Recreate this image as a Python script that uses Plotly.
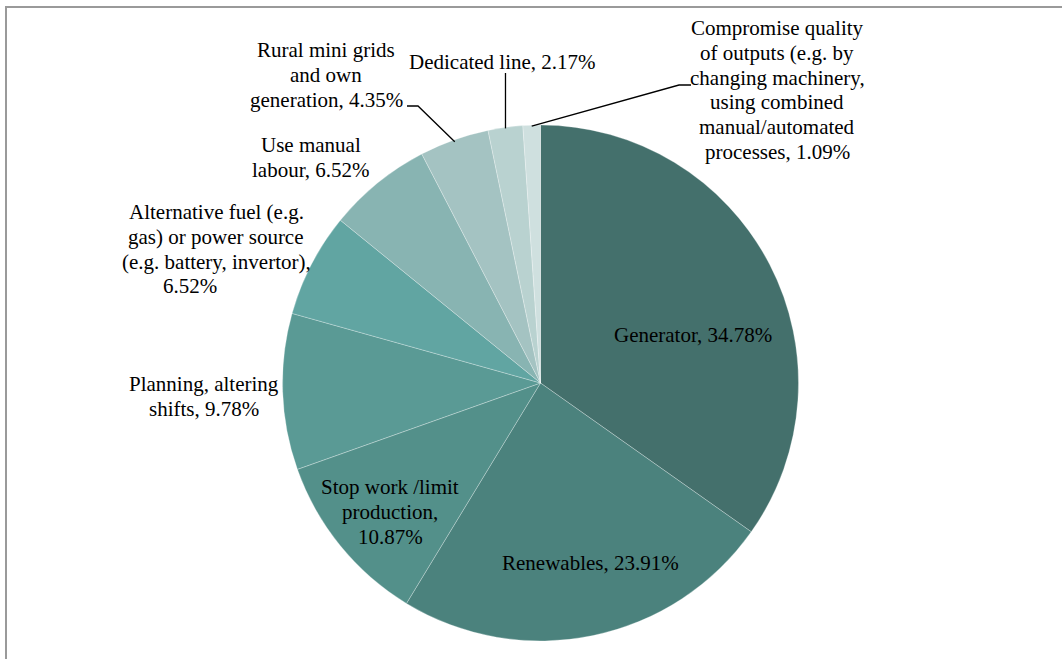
import math
import plotly.graph_objects as go

# Slice data (clockwise from 12 o'clock)
categories = [
    "Generator",
    "Renewables",
    "Stop work /limit production",
    "Planning, altering shifts",
    "Alternative fuel (e.g. gas) or power source (e.g. battery, invertor)",
    "Use manual labour",
    "Rural mini grids and own generation",
    "Dedicated line",
    "Compromise quality of outputs (e.g. by changing machinery, using combined manual/automated processes)",
]
shares = [34.78, 23.91, 10.87, 9.78, 6.52, 6.52, 4.35, 2.17, 1.09]
colors = ["#44706c", "#4b827d", "#53908a", "#5a9a95", "#61a5a2",
          "#88b4b2", "#a4c3c2", "#b9d2d0", "#cfe0df"]

# Wrapped label lines for each slice
label_lines = [
    ["Generator, 34.78%"],
    ["Renewables, 23.91%"],
    ["Stop work /limit", "production,", "10.87%"],
    ["Planning, altering", "shifts, 9.78%"],
    ["Alternative fuel (e.g.", "gas) or power source", "(e.g. battery, invertor),", "6.52%"],
    ["Use manual", "labour, 6.52%"],
    ["Rural mini grids", "and own", "generation, 4.35%"],
    ["Dedicated line, 2.17%"],
    ["Compromise quality", "of outputs (e.g. by", "changing machinery,",
     "using combined", "manual/automated", "processes, 1.09%"],
]

W, H = 1062, 659
CX, CY, R = 540.5, 383, 258
FONT = dict(family="Liberation Serif, Times New Roman, serif", size=21, color="#000000")
LINE_H = 24.8

# label anchor (centre x, first-line y) in pixels
label_pos = [
    (693, 335), (590, 563), (390, 487), (204, 384), (216, 212),
    (311, 145), (326, 50), (502, 62), (777, 28),
]
# per-line horizontal nudges (pixels) where a wrapped line sits off-centre
line_dx = {(4, 3): -26}


def px(x):
    return x / W


def py(y):
    return 1 - y / H


fig = go.Figure(go.Pie(
    labels=categories,
    values=shares,
    sort=False,
    direction="clockwise",
    rotation=0,
    textinfo="none",
    hoverinfo="label+percent",
    marker=dict(colors=colors, line=dict(color="rgba(255,255,255,0.35)", width=0.8)),
    domain=dict(x=[px(CX - R), px(CX + R)], y=[py(CY + R), py(CY - R)]),
    showlegend=False,
))

annotations = []
for k, (lines, (lx, ly)) in enumerate(zip(label_lines, label_pos)):
    for i, t in enumerate(lines):
        annotations.append(dict(
            x=px(lx + line_dx.get((k, i), 0)), y=py(ly + i * LINE_H),
            xref="paper", yref="paper",
            text=t, showarrow=False, xanchor="center", yanchor="middle",
            font=FONT,
        ))

# leader lines: from slice mid-angle on the rim out to the labels
total = sum(shares)
cum = 0
mids = []
for v in shares:
    mids.append((cum + v / 2) / total * 2 * math.pi)
    cum += v


def rim(idx, rr=R):
    a = mids[idx]
    return CX + rr * math.sin(a), CY - rr * math.cos(a)


LEADER = dict(color="#000", width=1.3)
shapes = []
# Rural mini grids
x0, y0 = rim(6, R - 2)
shapes.append(dict(type="path", xref="paper", yref="paper",
                   path=f"M {px(407)} {py(106)} L {px(418)} {py(106)} L {px(x0)} {py(y0)}",
                   line=LEADER))
# Dedicated line
x0, y0 = rim(7, R - 1)
shapes.append(dict(type="path", xref="paper", yref="paper",
                   path=f"M {px(x0)} {py(73)} L {px(x0)} {py(y0)}",
                   line=LEADER))
# Compromise quality
x0, y0 = rim(8, R - 1)
shapes.append(dict(type="path", xref="paper", yref="paper",
                   path=f"M {px(x0)} {py(y0)} L {px(679)} {py(85)} L {px(691)} {py(85)}",
                   line=LEADER))
# chart frame (top and left edges)
shapes.append(dict(type="path", xref="paper", yref="paper",
                   path=f"M {px(6)} {py(H + 5)} L {px(6)} {py(7)} L {px(W + 5)} {py(7)}",
                   line=dict(color="#9a9a9a", width=2)))

fig.update_layout(
    width=W, height=H,
    margin=dict(l=0, r=0, t=0, b=0),
    paper_bgcolor="#ffffff",
    plot_bgcolor="#ffffff",
    annotations=annotations,
    shapes=shapes,
)

fig.write_html("out.html")
